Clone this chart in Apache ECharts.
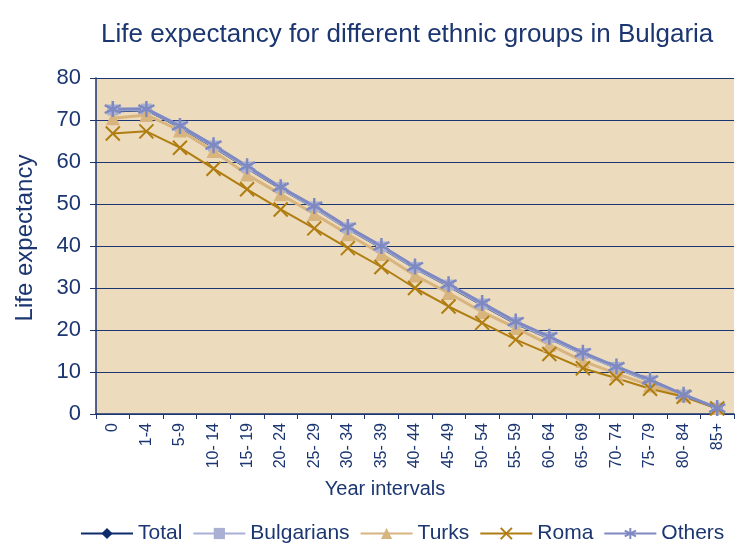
<!DOCTYPE html>
<html>
<head>
<meta charset="utf-8">
<script src="https://cdn.jsdelivr.net/npm/echarts@6/dist/echarts.min.js"></script>
<style>
  html, body { margin: 0; padding: 0; background: #fff; }
  #chart { width: 736px; height: 543px; }
</style>
</head>
<body>
<div id="chart"></div>
<script>
  var ageGroups = ['0', '1-4', '5-9', '10- 14', '15- 19', '20- 24', '25- 29', '30- 34', '35- 39', '40- 44',
    '45- 49', '50- 54', '55- 59', '60- 64', '65- 69', '70- 74', '75- 79', '80- 84', '85+'];
  var total = [72.1, 72.4, 68.3, 63.6, 58.6, 53.7, 49.1, 44.1, 39.6, 34.7, 30.5, 26.0, 21.6, 18.0, 14.3, 11.0, 7.8, 4.5, 1.4];
  var bulgarians = [72.4, 72.6, 68.5, 63.8, 58.8, 53.9, 49.3, 44.3, 39.8, 34.9, 30.7, 26.2, 21.8, 18.2, 14.4, 11.1, 7.9, 4.5, 1.4];
  var turks = [70.4, 71.2, 67.5, 62.6, 57.0, 52.3, 47.6, 42.8, 38.1, 33.0, 28.8, 24.3, 20.5, 16.5, 12.6, 9.6, 6.8, 4.4, 1.4];
  var roma = [66.8, 67.3, 63.4, 58.4, 53.5, 48.7, 44.2, 39.5, 35.0, 30.0, 25.6, 21.7, 17.7, 14.3, 10.9, 8.5, 6.0, 4.1, 1.3];
  var others = [72.6, 72.6, 68.6, 64.0, 59.0, 54.0, 49.5, 44.5, 40.0, 35.1, 30.9, 26.4, 22.0, 18.4, 14.6, 11.3, 8.1, 4.6, 1.4];

  var navy = '#1b3670';
  var font = 'Liberation Sans, Arial, sans-serif';
  var crossPath = 'path://M0,0L10,10M10,0L0,10';
  var starPath = 'path://M5,0L5,10M0,2.5L10,7.5M0,7.5L10,2.5';

  function mkSeries(name, data, color, symbol, size, width, stroke) {
    var s = {
      name: name,
      type: 'line',
      data: data,
      symbol: symbol,
      symbolSize: size,
      showAllSymbol: true,
      lineStyle: { color: color, width: width },
      itemStyle: { color: color }
    };
    if (stroke) {
      s.itemStyle = { color: color, borderColor: color, borderWidth: stroke };
    }
    return s;
  }

  var myChart = echarts.init(document.getElementById('chart'));
  var option = {
    backgroundColor: '#ffffff',
    animation: false,
    title: {
      text: 'Life expectancy for different ethnic groups in Bulgaria',
      left: 96,
      top: 17,
      textStyle: { color: navy, fontSize: 26, fontWeight: 'normal', fontFamily: font }
    },
    legend: {
      left: 80,
      top: 523,
      padding: 0,
      itemWidth: 52,
      itemHeight: 14,
      itemGap: 10,
      textStyle: { color: navy, fontSize: 21, fontFamily: font },
      data: ['Total', 'Bulgarians', 'Turks', 'Roma', 'Others']
    },
    grid: {
      left: 96,
      right: 2,
      top: 78,
      bottom: 129,
      show: true,
      backgroundColor: '#ecdcbd',
      borderWidth: 0
    },
    xAxis: {
      type: 'category',
      data: ageGroups,
      boundaryGap: true,
      name: 'Year intervals',
      nameLocation: 'middle',
      nameGap: 65,
      nameTextStyle: { color: navy, fontSize: 20, fontFamily: font, padding: [0, 60, 0, 0] },
      axisLine: { lineStyle: { color: navy, width: 1.5 } },
      axisTick: { show: true, length: 5, lineStyle: { color: navy } },
      axisLabel: { rotate: 90, interval: 0, color: navy, fontSize: 16, fontFamily: font, margin: 9 }
    },
    yAxis: {
      type: 'value',
      min: 0,
      max: 80,
      interval: 10,
      name: 'Life expectancy',
      nameLocation: 'middle',
      nameGap: 59,
      nameTextStyle: { color: navy, fontSize: 24, fontFamily: font, padding: [0, 0, 0, 16] },
      axisLine: { show: true, lineStyle: { color: navy, width: 1.5 } },
      axisTick: { show: true, length: 6, lineStyle: { color: navy } },
      axisLabel: { color: navy, fontSize: 22, fontFamily: font, margin: 15 },
      splitLine: { lineStyle: { color: navy, width: 1 } }
    },
    series: [
      mkSeries('Total', total, '#0e2b6c', 'diamond', 12, 2.5, 0),
      mkSeries('Bulgarians', bulgarians, '#a9b0d4', 'rect', 11, 3.5, 0),
      mkSeries('Turks', turks, '#d8b47f', 'triangle', 14, 3, 0),
      mkSeries('Roma', roma, '#b07d10', crossPath, 14, 2, 2),
      mkSeries('Others', others, '#7e89c2', starPath, 16, 3, 2.5)
    ]
  };
  option && myChart.setOption(option);
</script>
</body>
</html>
